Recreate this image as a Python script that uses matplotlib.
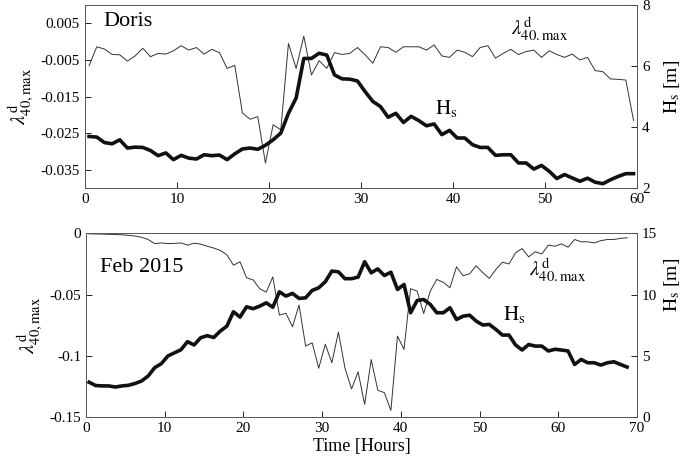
import numpy as np
import matplotlib
matplotlib.use("Agg")
import matplotlib.pyplot as plt

plt.rcParams['font.family'] = ['Liberation Serif', 'DejaVu Serif']
plt.rcParams['mathtext.fontset'] = 'stix'

# time step of the records: 50 min
dt = 50.0 / 60.0

# --- Doris (top panel) ---
doris_t0 = 0.45
doris_hs = [3.69, 3.67, 3.49, 3.45, 3.58, 3.31, 3.34, 3.33, 3.23, 3.06,
            3.15, 2.93, 3.07, 2.98, 2.95, 3.09, 3.06, 3.08, 2.93, 3.12,
            3.28, 3.31, 3.27, 3.40, 3.58, 3.80, 4.45, 4.95, 6.25, 6.25,
            6.42, 6.36, 5.71, 5.58, 5.57, 5.51, 5.16, 4.84, 4.67,
            4.32, 4.45, 4.15, 4.35, 4.21, 4.04, 4.10, 3.75, 3.89, 3.64,
            3.64, 3.42, 3.33, 3.33, 3.07, 3.09, 3.09, 2.82, 2.82, 2.62,
            2.74, 2.55, 2.31, 2.44, 2.33, 2.22, 2.32, 2.19, 2.14, 2.27,
            2.38, 2.47, 2.47]
doris_lam = [-0.0066, -0.0014, -0.0020, -0.0035, -0.0036, -0.0053, -0.0039, -0.0018,
             -0.0041, -0.0032, -0.0034, -0.0025, -0.0011, -0.0023, -0.0016, -0.0034,
             -0.0021, -0.0030, -0.0073, -0.0065, -0.0195, -0.0212, -0.0205, -0.0332,
             -0.0227, -0.0241, -0.0005, -0.0073, 0.0015, -0.0091, -0.0052, -0.0073,
             -0.0030, -0.0035, -0.0032, -0.0016, -0.0036, -0.0059, -0.0014,
             -0.0016, -0.0029, -0.0014, -0.0014, -0.0014, -0.0023, -0.0009, -0.0039,
             -0.0043, -0.0023, -0.0029, -0.0041, -0.0016, -0.0011, -0.0045, -0.0032,
             -0.0021, -0.0035, -0.0027, -0.0023, -0.0043, -0.0025, -0.0035, -0.0043,
             -0.0034, -0.0050, -0.0043, -0.0079, -0.0082, -0.0102, -0.0103, -0.0105,
             -0.0215]

# --- Feb 2015 (bottom panel) ---
feb_t0 = 0.4
feb_hs = [2.85, 2.58, 2.55, 2.55, 2.46, 2.55, 2.60, 2.75, 2.95, 3.36,
          4.04, 4.36, 4.99, 5.25, 5.50, 6.16, 5.89, 6.48, 6.65, 6.50,
          7.03, 7.43, 8.60, 8.17, 9.01, 8.85, 9.06, 9.33, 8.97, 10.23,
          9.88, 10.10, 9.69, 9.74, 10.34, 10.56, 11.05, 11.92, 11.86, 11.30,
          11.30, 11.43, 12.68, 11.78, 12.10, 11.56, 11.83, 10.42, 10.83, 8.52,
          9.52, 9.60, 9.20, 8.52, 8.52, 8.93, 7.97, 8.24, 8.32, 7.84,
          7.52, 7.57, 7.16, 6.70, 6.70, 5.89, 5.48, 5.93, 5.80, 5.80,
          5.40, 5.54, 5.48, 5.40, 4.30, 4.71, 4.44, 4.44, 4.25, 4.44,
          4.52, 4.30, 4.09]
feb_lam = [-0.0004, -0.0005, -0.0006, -0.0008, -0.0009, -0.0012, -0.0016, -0.0022,
           -0.0032, -0.0050, -0.0084, -0.0078, -0.0083, -0.0082, -0.0078, -0.0096,
           -0.0080, -0.0088, -0.0105, -0.0120, -0.0140, -0.0175, -0.0260, -0.0232,
           -0.0363, -0.0380, -0.0452, -0.0480, -0.0355, -0.0667, -0.0653, -0.0762,
           -0.0585, -0.0920, -0.0893, -0.1100, -0.0905, -0.1056, -0.0806, -0.1100,
           -0.1270, -0.1130, -0.1396, -0.1030, -0.1280, -0.1300, -0.1445, -0.0838,
           -0.0947, -0.0452, -0.0471, -0.0654, -0.0471, -0.0376, -0.0400, -0.0444,
           -0.0273, -0.0346, -0.0330, -0.0265, -0.0320, -0.0368, -0.0295, -0.0235,
           -0.0250, -0.0159, -0.0124, -0.0192, -0.0150, -0.0168, -0.0096, -0.0105,
           -0.0086, -0.0113, -0.0050, -0.0069, -0.0069, -0.0078, -0.0060, -0.0050,
           -0.0050, -0.0041, -0.0036]

doris_t = doris_t0 + dt * np.arange(len(doris_hs))
feb_t = feb_t0 + dt * np.arange(len(feb_hs))

lam_label = r'$\lambda^{\rm d}_{\rm 40,max}$'
lam_text = r'$\lambda^{\rm d}_{\rm 40.max}$'
hs_label = r'$\rm H_s$ [m]'
hs_text = r'$\rm H_s$'

fig = plt.figure(figsize=(6.85, 4.63), dpi=100)
ax1 = fig.add_axes([0.124, 0.594, 0.806, 0.395])
ax2 = fig.add_axes([0.1255, 0.099, 0.8045, 0.397])


def style(ax):
    ax.tick_params(direction='in', labelsize=11, length=4, width=0.6)
    for s in ax.spines.values():
        s.set_linewidth(0.6)
        s.set_color('#555555')


# top panel
ax1.plot(doris_t, doris_lam, color='#333333', lw=0.7)
ax1.set_xlim(0, 60)
ax1.set_ylim(-0.04, 0.01)
ax1.set_yticks([0.005, -0.005, -0.015, -0.025, -0.035])
ax1.set_yticklabels(['0.005', '-0.005', '-0.015', '-0.025', '-0.035'])
ax1.set_xticks([0, 10, 20, 30, 40, 50, 60])
ax1.set_ylabel(lam_label, fontsize=15, labelpad=4)
ax1.text(2.0, 0.0054, 'Doris', fontsize=16, va='center')
ax1.text(46.3, 0.0035, lam_text, fontsize=15, va='center')
style(ax1)

ax1r = ax1.twinx()
ax1r.plot(doris_t, doris_hs, color='#111111', lw=2.6)
ax1r.set_ylim(2, 8)
ax1r.set_yticks([2, 4, 6, 8])
ax1r.set_ylabel(hs_label, fontsize=14)
ax1r.yaxis.set_label_coords(1.045, 0.55)
ax1r.text(38.0, 4.6, hs_text, fontsize=15, va='center')
style(ax1r)

# bottom panel
ax2.plot(feb_t, feb_lam, color='#333333', lw=0.7)
ax2.set_xlim(0, 70)
ax2.set_ylim(-0.15, 0)
ax2.set_yticks([0, -0.05, -0.1, -0.15])
ax2.set_yticklabels(['0', '-0.05', '-0.1', '-0.15'])
ax2.set_xticks([0, 10, 20, 30, 40, 50, 60, 70])
ax2.set_ylabel(lam_label, fontsize=15, labelpad=4)
ax2.set_xlabel('Time [Hours]', fontsize=13, labelpad=2)
ax2.text(1.8, -0.028, 'Feb 2015', fontsize=16, va='center')
ax2.text(56.3, -0.030, lam_text, fontsize=15, va='center')
style(ax2)

ax2r = ax2.twinx()
ax2r.plot(feb_t, feb_hs, color='#111111', lw=2.6)
ax2r.set_ylim(0, 15)
ax2r.set_yticks([0, 5, 10, 15])
ax2r.set_ylabel(hs_label, fontsize=14)
ax2r.yaxis.set_label_coords(1.045, 0.72)
ax2r.text(53.0, 8.4, hs_text, fontsize=15, va='center')
style(ax2r)

fig.savefig('out.png', dpi=100)
